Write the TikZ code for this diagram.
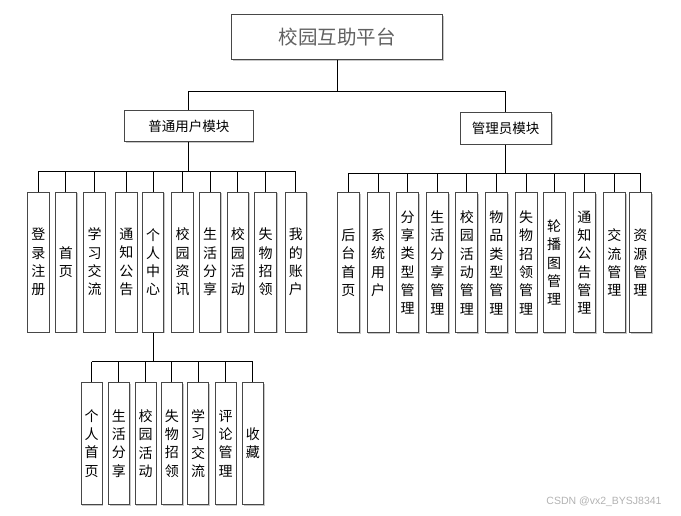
\documentclass[tikz,border=0pt]{standalone}
\usepackage{fontspec}
\newfontfamily\cjk{Noto Sans CJK SC}
\newfontfamily\wmfont{Liberation Sans}
\usetikzlibrary{shadows}
\tikzset{
  box/.style={draw=black!72, line width=1pt, fill=white, inner sep=0pt,
    drop shadow={shadow xshift=1.2pt, shadow yshift=-1.2pt, fill=black!22, opacity=1}},
  vbox/.style={box, minimum width=21.5pt, minimum height=140pt, align=center,
    font={\cjk\fontsize{14}{18.3}\selectfont}},
  sbox/.style={vbox, minimum width=21pt, minimum height=121.6pt},
  conn/.style={draw=black, line width=0.9pt},
}
\begin{document}
\begin{tikzpicture}[x=1pt,y=-1pt]
\useasboundingbox (0,0) rectangle (681,515);
% root
\node[box, minimum width=211pt, minimum height=44.6pt, text=black!62,
  font={\cjk\fontsize{19.5}{22}\selectfont}] (top) at (337.2,37) {校园互助平台};
% modules
\node[box, minimum width=128.2pt, minimum height=31.7pt,
  font={\cjk\fontsize{13.5}{16}\selectfont}] (m1) at (188.9,125.9) {普通用户模块};
\node[box, minimum width=91.3pt, minimum height=31.7pt,
  font={\cjk\fontsize{13.5}{16}\selectfont}] (m2) at (505.7,128.2) {管理员模块};
\coordinate (j0) at (337.2,91.7);
\coordinate (lb) at (0,171.7);
\coordinate (rb) at (0,173.3);
\coordinate (bb) at (0,361.7);
\draw[conn] (top.south) -- (j0);
\draw[conn] (m1.north) -- (m1.north |- j0) -- (m2.north |- j0) -- (m2.north);
% left children
\node[vbox] (l1) at (38.3,262) {登\\录\\注\\册};
\node[vbox] (l2) at (65.8,262) {首\\页};
\node[vbox] (l3) at (94.5,262) {学\\习\\交\\流};
\node[vbox] (l4) at (126.3,262) {通\\知\\公\\告};
\node[vbox] (l5) at (153,262) {个\\人\\中\\心};
\node[vbox] (l6) at (182.5,262) {校\\园\\资\\讯};
\node[vbox] (l7) at (210.2,262) {生\\活\\分\\享};
\node[vbox] (l8) at (237.8,262) {校\\园\\活\\动};
\node[vbox] (l9) at (265.7,262) {失\\物\\招\\领};
\node[vbox] (l10) at (295.8,262) {我\\的\\账\\户};
\draw[conn] (m1.south) -- (m1.south |- lb);
\draw[conn] (l1.north |- lb) -- (l10.north |- lb);
\foreach \n in {l1,l2,l3,l4,l5,l6,l7,l8,l9,l10}
  \draw[conn] (\n.north |- lb) -- (\n.north);
% right children
\node[vbox, minimum width=22pt] (r1) at (348.3,262.7) {后\\台\\首\\页};
\node[vbox, minimum width=22pt] (r2) at (378,262.7) {系\\统\\用\\户};
\node[vbox, minimum width=22pt] (r3) at (407.7,262.7) {分\\享\\类\\型\\管\\理};
\node[vbox, minimum width=22pt] (r4) at (437.3,262.7) {生\\活\\分\\享\\管\\理};
\node[vbox, minimum width=22pt] (r5) at (466.8,262.7) {校\\园\\活\\动\\管\\理};
\node[vbox, minimum width=22pt] (r6) at (496.3,262.7) {物\\品\\类\\型\\管\\理};
\node[vbox, minimum width=22pt] (r7) at (526.2,262.7) {失\\物\\招\\领\\管\\理};
\node[vbox, minimum width=22pt] (r8) at (554.2,262.7) {轮\\播\\图\\管\\理};
\node[vbox, minimum width=22pt] (r9) at (584.3,262.7) {通\\知\\公\\告\\管\\理};
\node[vbox, minimum width=22pt] (r10) at (614.3,262.7) {交\\流\\管\\理};
\node[vbox, minimum width=22pt] (r11) at (640.3,262.7) {资\\源\\管\\理};
\draw[conn] (m2.south) -- (m2.south |- rb);
\draw[conn] (r1.north |- rb) -- (r11.north |- rb);
\foreach \n in {r1,r2,r3,r4,r5,r6,r7,r8,r9,r10,r11}
  \draw[conn] (\n.north |- rb) -- (\n.north);
% bottom children of 个人中心
\node[sbox] (b1) at (91.7,443.5) {个\\人\\首\\页};
\node[sbox] (b2) at (118.8,443.5) {生\\活\\分\\享};
\node[sbox] (b3) at (145.5,443.5) {校\\园\\活\\动};
\node[sbox] (b4) at (171.8,443.5) {失\\物\\招\\领};
\node[sbox] (b5) at (198.2,443.5) {学\\习\\交\\流};
\node[sbox] (b6) at (225.5,443.5) {评\\论\\管\\理};
\node[sbox] (b7) at (252.8,443.5) {收\\藏};
\draw[conn] (l5.south) -- (l5.south |- bb);
\draw[conn] (b1.north |- bb) -- (b7.north |- bb);
\foreach \n in {b1,b2,b3,b4,b5,b6,b7}
  \draw[conn] (\n.north |- bb) -- (\n.north);
% watermark
\node[text=black!30, font={\wmfont\fontsize{10.5}{12}\selectfont}, inner sep=0pt] (wm) at (604,502) {CSDN @vx2\_BYSJ8341};
\end{tikzpicture}
\end{document}
